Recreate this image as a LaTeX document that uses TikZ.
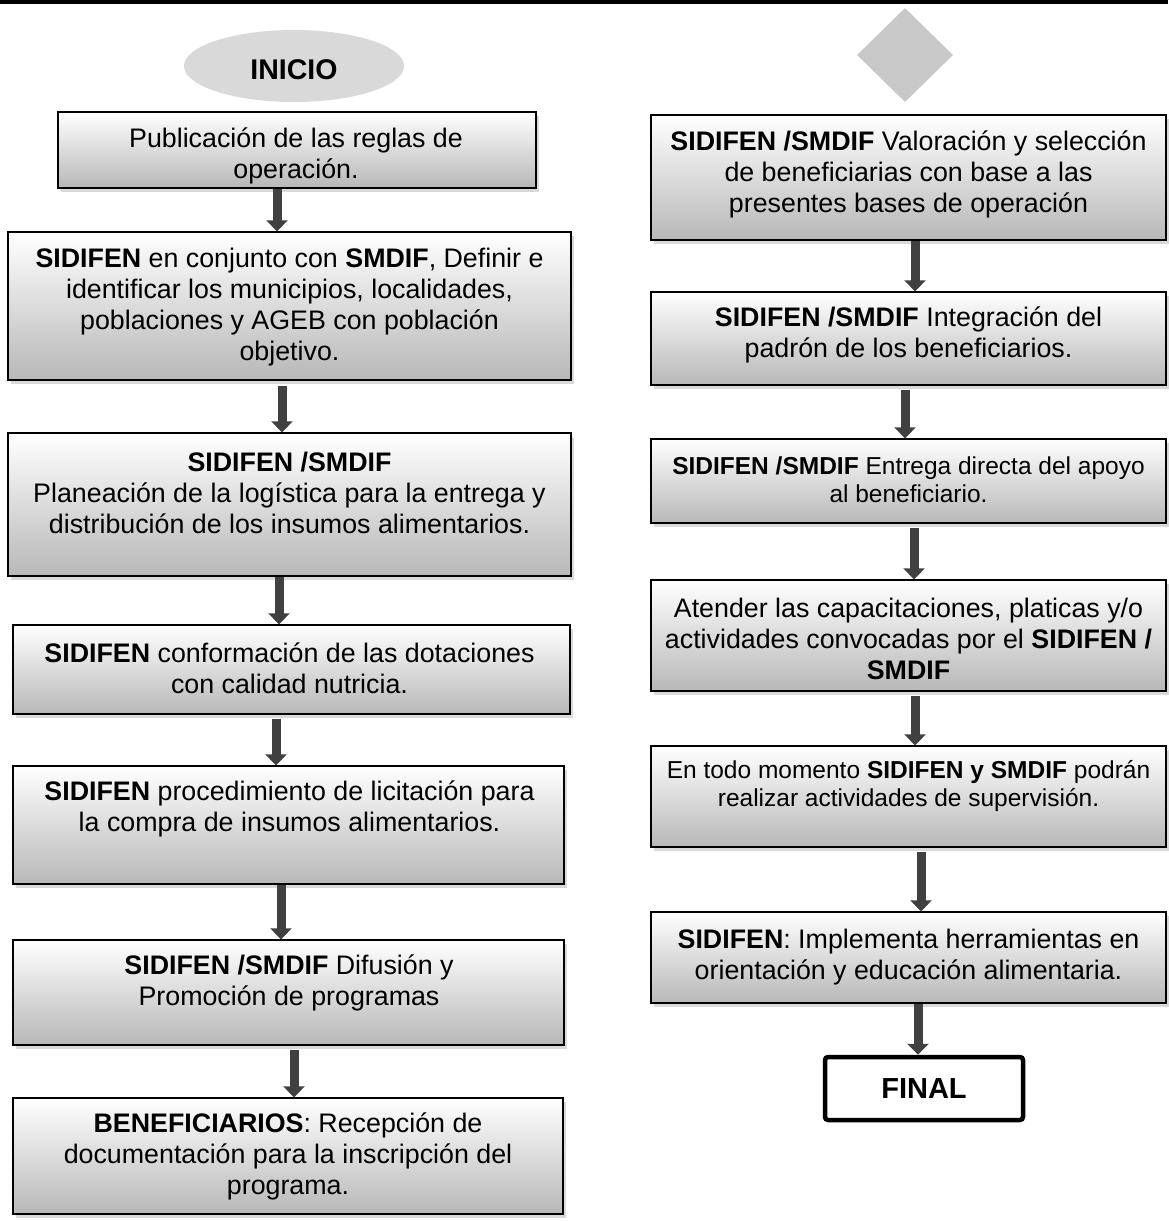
\documentclass[tikz,border=0pt]{standalone}
\usepackage{fontspec}
\setmainfont{Liberation Sans}
\usetikzlibrary{shapes.geometric,arrows.meta,shadows}
\definecolor{arrowgray}{HTML}{404040}
\definecolor{ellgray}{HTML}{D9D9D9}
\definecolor{diagray}{HTML}{C8C8C8}
\begin{document}
\begin{tikzpicture}[x=1pt,y=-1pt,
  stepbox/.style={rectangle, draw=black, line width=1.3pt, top color=white, bottom color=black!28,
    drop shadow={shadow xshift=3pt, shadow yshift=-4pt, opacity=0.3}, inner sep=0pt},
  txt/.style={align=center, inner sep=0pt, font=\fontsize{26.8}{31}\selectfont},
  stxt/.style={align=center, inner sep=0pt, font=\fontsize{24.5}{28}\selectfont},
  flow/.style={draw=arrowgray, line width=9pt, -{Triangle[width=21pt,length=11pt]}},
  finalbox/.style={rectangle, draw=black, line width=4.5pt, rounded corners=3pt, fill=white,
    inner sep=0pt, font=\bfseries\fontsize{29}{34}\selectfont}]
\useasboundingbox (0,0) rectangle (1168,1221);
\fill[black] (0,0) rectangle (1168,4);

% start shapes
\node[ellipse, fill=ellgray, minimum width=220, minimum height=72, inner sep=0pt] (ini) at (294,66) {};
\node[font=\bfseries\fontsize{28.5}{34}\selectfont, inner sep=0pt] (init) at (294,70) {INICIO};
\node[diamond, fill=diagray, minimum width=96, minimum height=94, inner sep=0pt] (dia) at (905,55) {};

% left column boxes
\node[stepbox, minimum width=478, minimum height=76] (L1) at (297,150) {};
\node[stepbox, minimum width=563, minimum height=148] (L2) at (289.5,306) {};
\node[stepbox, minimum width=563, minimum height=143] (L3) at (289.5,504.5) {};
\node[stepbox, minimum width=557, minimum height=89] (L4) at (291.5,669.5) {};
\node[stepbox, minimum width=551, minimum height=118] (L5) at (288.5,825) {};
\node[stepbox, minimum width=551, minimum height=105] (L6) at (288.5,992.5) {};
\node[stepbox, minimum width=550, minimum height=116] (L7) at (288,1156) {};

\node[txt] (L1t) at (296,156) {Publicación de las reglas de\\operación.};
\node[txt] (L2t) at (289.5,307) {\textbf{SIDIFEN} en conjunto con \textbf{SMDIF}, Definir e\\identificar los municipios, localidades,\\poblaciones y AGEB con población\\objetivo.};
\node[txt] (L3t) at (289.5,493) {\textbf{SIDIFEN /SMDIF}\\Planeación de la logística para la entrega y\\distribución de los insumos alimentarios.};
\node[txt] (L4t) at (289.5,668) {\textbf{SIDIFEN} conformación de las dotaciones\\con calidad nutricia.};
\node[txt] (L5t) at (289.5,809) {\textbf{SIDIFEN} procedimiento de licitación para\\la compra de insumos alimentarios.};
\node[txt] (L6t) at (289,983) {\textbf{SIDIFEN /SMDIF} Difusión y\\Promoción de programas};
\node[txt] (L7t) at (288,1156) {\textbf{BENEFICIARIOS}: Recepción de\\documentación para la inscripción del\\programa.};

% right column boxes
\node[stepbox, minimum width=515, minimum height=125] (R1) at (908.5,177.5) {};
\node[stepbox, minimum width=515, minimum height=93] (R2) at (908.5,338.5) {};
\node[stepbox, minimum width=515, minimum height=84] (R3) at (908.5,481) {};
\node[stepbox, minimum width=515, minimum height=111] (R4) at (908.5,635.5) {};
\node[stepbox, minimum width=515, minimum height=101] (R5) at (908.5,796.5) {};
\node[stepbox, minimum width=515, minimum height=91] (R6) at (908.5,957.5) {};
\node[finalbox, minimum width=198, minimum height=63] (fin) at (924,1088.5) {FINAL};

\node[txt] (R1t) at (908.5,174) {\textbf{SIDIFEN /SMDIF} Valoración y selección\\de beneficiarias con base a las\\presentes bases de operación};
\node[txt] (R2t) at (908.5,335) {\textbf{SIDIFEN /SMDIF} Integración del\\padrón de los beneficiarios.};
\node[stxt] (R3t) at (908.5,479.5) {\textbf{SIDIFEN /SMDIF} Entrega directa del apoyo\\al beneficiario.};
\node[txt] (R4t) at (908.5,639) {Atender las capacitaciones, platicas y/o\\actividades convocadas por el \textbf{SIDIFEN /}\\\textbf{SMDIF}};
\node[stxt] (R5t) at (908.5,786) {En todo momento \textbf{SIDIFEN y SMDIF} podrán\\realizar actividades de supervisión.};
\node[txt] (R6t) at (908.5,957.5) {\textbf{SIDIFEN}: Implementa herramientas en\\orientación y educación alimentaria.};

% arrow columns
\coordinate (xa) at (277,0);
\coordinate (xb) at (282,0);
\coordinate (xc) at (279,0);
\coordinate (xd) at (276,0);
\coordinate (xe) at (281,0);
\coordinate (xf) at (294,0);
\coordinate (ya) at (915,0);
\coordinate (yb) at (905,0);
\coordinate (yc) at (914,0);
\coordinate (yd) at (915,0);
\coordinate (ye) at (921,0);
\coordinate (yf) at (918,0);

\draw[flow] (xa |- L1.south) -- (xa |- L2.north);
\draw[flow] ([yshift=-5pt]xb |- L2.south) -- (xb |- L3.north);
\draw[flow] (xc |- L3.south) -- (xc |- L4.north);
\draw[flow] ([yshift=-4pt]xd |- L4.south) -- (xd |- L5.north);
\draw[flow] (xe |- L5.south) -- (xe |- L6.north);
\draw[flow] ([yshift=-4pt]xf |- L6.south) -- (xf |- L7.north);

\draw[flow] (ya |- R1.south) -- (ya |- R2.north);
\draw[flow] ([yshift=-4pt]yb |- R2.south) -- (yb |- R3.north);
\draw[flow] ([yshift=-4pt]yc |- R3.south) -- (yc |- R4.north);
\draw[flow] ([yshift=-4pt]yd |- R4.south) -- (yd |- R5.north);
\draw[flow] ([yshift=-4pt]ye |- R5.south) -- (ye |- R6.north);
\draw[flow] (yf |- R6.south) -- (yf |- fin.north);
\end{tikzpicture}
\end{document}
